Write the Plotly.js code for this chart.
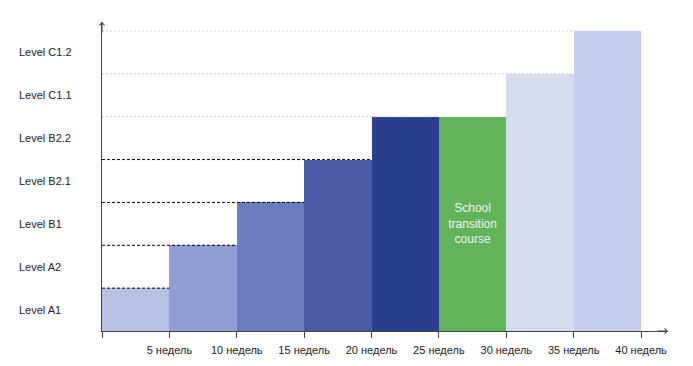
<!DOCTYPE html>
<html>
<head>
<meta charset="utf-8">
<script src="https://cdn.plot.ly/plotly-3.0.1.min.js"></script>
<style>html,body{margin:0;padding:0;background:#fff;}#chart{width:693px;height:366px;}</style>
</head>
<body>
<div id="chart"></div>
<script>
// Data
var levelLabels = ["Level A1", "Level A2", "Level B1", "Level B2.1", "Level B2.2", "Level C1.1", "Level C1.2"];
var weekEnds = [5, 10, 15, 20, 25, 30, 35, 40];
var levelReached = [1, 2, 3, 4, 5, 5, 6, 7];
var barTexts = ["", "", "", "", "", "School<br>transition<br>course", "", ""];
var tickWeeks = [0, 5, 10, 15, 20, 25, 30, 35, 40];
var tickTexts = ["", "5 недель", "10 недель", "15 недель", "20 недель", "25 недель", "30 недель", "35 недель", "40 недель"];
var barColors = ["#b7c2e4", "#8f9dd2", "#6c7dbe", "#4a5ca8", "#2c3f8e", "#62b45a", "#d5daef", "#c4cdea"];

var FONT = "Liberation Sans, Arial, sans-serif";
var traces = [];
traces.push({
  type: "bar",
  x: weekEnds,
  y: levelReached,
  width: weekEnds.map(function(){ return 5; }),
  offset: weekEnds.map(function(){ return -5; }),
  marker: {color: barColors, line: {width: 0}},
  text: barTexts,
  textposition: "inside",
  insidetextanchor: "middle",
  textangle: 0,
  textfont: {family: FONT, size: 12, color: "#f2f2f2"},
  hoverinfo: "none",
  showlegend: false
});

// Dashed level guide lines: from the axis to the first bar reaching that level
for (var k = 1; k <= levelLabels.length; k++) {
  var idx = levelReached.indexOf(k);
  var xEnd = weekEnds[idx];
  var dark = k <= 4;
  traces.push({
    type: "scatter",
    mode: "lines",
    x: [0, xEnd],
    y: [k, k],
    line: {color: dark ? "#000000" : "#cfcfcf", width: 1, dash: dark ? "3px,2px" : "2px,2px"},
    hoverinfo: "none",
    showlegend: false,
    cliponaxis: false
  });
}

var annotations = levelLabels.map(function(lbl, i) {
  return {
    xref: "paper", yref: "y", x: -0.1502, y: i + 0.5,
    xanchor: "left", yanchor: "middle",
    text: lbl, showarrow: false,
    font: {family: FONT, size: 11, color: "#222"}
  };
});
// axis arrowheads
annotations.push({
  xref: "x", yref: "y", x: 42, y: 0, ax: -12, ay: 0, axref: "pixel", ayref: "pixel",
  text: "", showarrow: true, arrowhead: 4, arrowsize: 1, arrowwidth: 1, arrowcolor: "#444"
});
annotations.push({
  xref: "x", yref: "paper", x: 0, y: 1, ax: 0, ay: 12,
  text: "", showarrow: true, arrowhead: 4, arrowsize: 1, arrowwidth: 1, arrowcolor: "#444"
});

var layout = {
  width: 693, height: 366,
  margin: {l: 102, r: 25, t: 22, b: 35},
  paper_bgcolor: "#ffffff", plot_bgcolor: "#ffffff",
  bargap: 0,
  showlegend: false,
  font: {family: FONT, size: 11, color: "#222"},
  xaxis: {
    range: [0, 42], showgrid: false, zeroline: false,
    showline: true, linecolor: "#444", linewidth: 1,
    ticks: "outside", ticklen: 6, tickcolor: "#444", tickwidth: 1,
    ticklabelstandoff: 3,
    tickmode: "array", tickvals: tickWeeks, ticktext: tickTexts,
    tickfont: {family: FONT, size: 11, color: "#222"},
    fixedrange: true
  },
  yaxis: {
    range: [0, 7.21], showgrid: false, zeroline: false,
    showline: true, linecolor: "#444", linewidth: 1,
    showticklabels: false, ticks: "",
    fixedrange: true
  },
  annotations: annotations
};

Plotly.newPlot("chart", traces, layout, {displayModeBar: false, staticPlot: true});
</script>
</body>
</html>
